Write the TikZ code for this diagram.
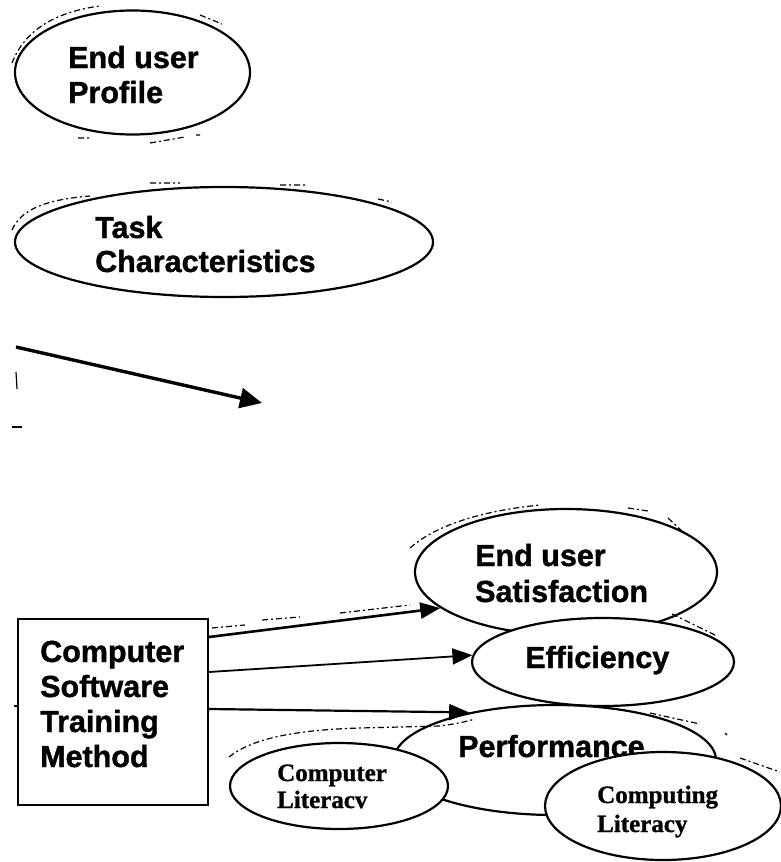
\documentclass[tikz,border=0pt]{standalone}
\usepackage{fontspec}
\setmainfont{Liberation Sans}[BoldFont={Liberation Sans Bold},BoldFeatures={FakeBold=1.2}]
\newfontfamily\serifb{Liberation Serif}[BoldFont={Liberation Serif Bold},BoldFeatures={FakeBold=1.0}]
\usetikzlibrary{arrows.meta,shapes.geometric,calc}
\begin{document}
\begin{tikzpicture}[x=1pt,y=-1pt,
  ell/.style={draw, ellipse, line width=2.2pt, fill=white, inner sep=0pt},
  lbl/.style={anchor=base west, inner sep=0pt, font=\fontsize{30.5}{35}\selectfont\bfseries},
  slbl/.style={anchor=base west, inner sep=0pt, font=\fontsize{25}{28}\selectfont\serifb\bfseries},
  arr/.style={-{Triangle[length=20pt,width=16pt]}, line width=2.2pt},
  stray/.style={line width=1.2pt, dash pattern=on 6pt off 3pt on 2pt off 3pt}]
\useasboundingbox (0,0) rectangle (780,862);
\fill[white] (0,0) rectangle (780,862);

% End user Profile
\draw[stray] (12,63) .. controls (25,30) and (55,12) .. (100,6);
\draw[stray] (200,15) -- (222,24);
\draw[stray] (78,138) -- (90,138) (150,143) -- (185,137) (196,135) -- (200,135);
\node[ell, minimum width=235pt, minimum height=124pt] (prof) at (132.5,72.5) {};
\node[lbl] (prof1) at (68,68) {End user};
\node[lbl] (prof2) at (68,103) {Profile};

% Task Characteristics
\draw[stray] (12,230) .. controls (20,212) and (40,200) .. (90,196);
\draw[stray] (150,183) -- (180,183) (280,185) -- (306,185) (378,199) -- (392,202);
\node[ell, minimum width=418pt, minimum height=110pt] (task) at (224,242) {};
\node[lbl] (task1) at (95,238) {Task};
\node[lbl] (task2) at (95,272) {Characteristics};

% free arrow
\coordinate (fa) at (16,347);
\coordinate (fb) at (262,403);
\draw[line width=3.4pt, -{Triangle[length=22pt,width=20pt]}] (fa) -- (fb);
\draw[line width=1.2pt] (16,372) -- (17,389);
\draw[line width=1.2pt] (12,427) -- (22,427);

% End user Satisfaction
\draw[stray] (410,548) .. controls (430,530) and (470,512) .. (540,505);
\draw[stray] (628,508) -- (648,511) (668,518) -- (700,548);
\node[ell, minimum width=302pt, minimum height=126pt] (sat) at (566,572) {};
\node[lbl] (sat1) at (475,566) {End user};
\node[lbl] (sat2) at (475,602) {Satisfaction};

% Efficiency
\draw[stray] (672,614) -- (715,635);
\node[ell, minimum width=262pt, minimum height=88pt] (eff) at (603,662) {};
\node[lbl] (eff1) at (525,668) {Efficiency};

% Performance
\draw[stray] (650,713) -- (700,724) (725,733) -- (727,735);
\node[ell, minimum width=322pt, minimum height=110pt] (perf) at (555,760) {};
\node[lbl] (perf1) at (458,757) {Performance};

% Computer Literacv
\draw[stray] (229,757) .. controls (250,740) and (290,730) .. (360,728) -- (440,726) .. controls (455,724) and (465,722) .. (475,719);
\node[ell, minimum width=218pt, minimum height=86pt] (clit) at (339,786) {};
\node[slbl] (clit1) at (277,781) {Computer};
\node[slbl] (clit2) at (277,808) {Literacv};

% Computing Literacy
\draw[stray] (740,758) -- (780,772);
\node[ell, minimum width=236pt, minimum height=108pt] (cing) at (663,806) {};
\node[slbl] (cing1) at (597,803) {Computing};
\node[slbl] (cing2) at (597,832) {Literacy};

% Box
\draw[stray] (212,628) -- (245,625) (262,620) -- (300,617) (340,613) -- (410,605);
\node[draw, line width=2pt, minimum width=190pt, minimum height=186pt, inner sep=0pt] (box) at (113,712) {};
\node[lbl] (box1) at (40,662) {Computer};
\node[lbl] (box2) at (40,697) {Software};
\node[lbl] (box3) at (40,732) {Training};
\node[lbl] (box4) at (40,767) {Method};
\draw[line width=1.2pt] (14,706) -- (18,706);

% arrows from box
\draw[arr, line width=2.6pt] ($(box.east)+(0,-75)$) -- (sat.196);
\draw[arr, line width=1.8pt] ($(box.east)+(0,-40)$) -- (eff.177);
\draw[arr] ($(box.east)+(0,-3)$) -- (perf.151);
\end{tikzpicture}
\end{document}
